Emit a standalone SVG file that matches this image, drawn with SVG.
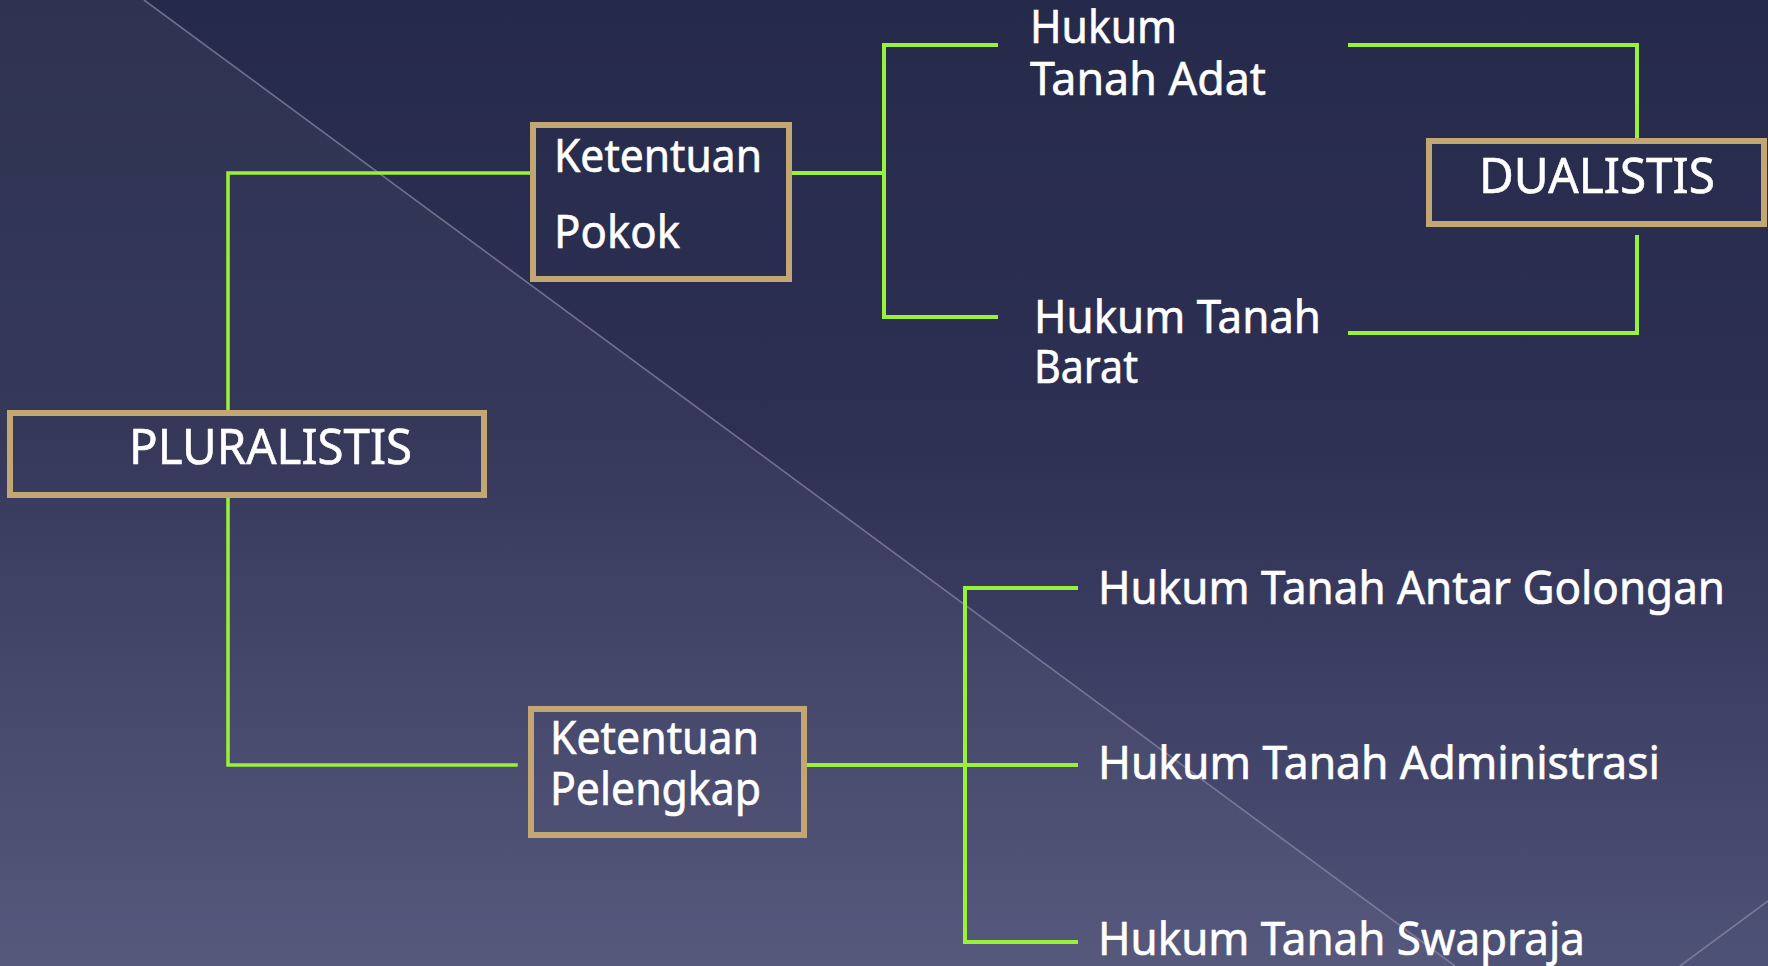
<svg xmlns="http://www.w3.org/2000/svg" width="1768" height="966" viewBox="0 0 1768 966">
  <defs>
    <linearGradient id="bg" x1="0" y1="0" x2="0" y2="1">
      <stop offset="0" stop-color="#262a4a"/>
      <stop offset="0.45" stop-color="#2d3053"/>
      <stop offset="1" stop-color="#4f5277"/>
    </linearGradient>
    <style>
      .box { fill: none; stroke: #c2a673; stroke-width: 6; }
      .lbl { font-family: "Noto Sans", "Open Sans", "Liberation Sans", sans-serif; fill: #ffffff; stroke: #ffffff; stroke-width: 0.6; font-size: 45px; }
      .big { font-size: 50px; }
      .link { fill: none; stroke: #99f23a; stroke-width: 4; stroke-linecap: square; }
      .thin { stroke-width: 3.5; }
      .deco { stroke: #8a8ca6; stroke-width: 1.6; opacity: 0.7; fill: none; }
    </style>
  </defs>

  <!-- background -->
  <rect x="0" y="0" width="1768" height="966" fill="url(#bg)"/>
  <polygon points="0,0 144,0 1455,966 0,966" fill="#ffffff" opacity="0.045"/>
  <line class="deco" x1="144" y1="0" x2="1455" y2="966"/>
  <line class="deco" x1="1768" y1="901" x2="1680" y2="966"/>

  <!-- connectors -->
  <g id="connectors">
    <path class="link thin" d="M228,412 V173 H530"/>
    <path class="link" d="M792,173 H884"/>
    <path class="link" d="M996,45 H884 V317 H996"/>
    <path class="link" d="M1350,45 H1637 V138"/>
    <path class="link" d="M1637,237 V333 H1350"/>
    <path class="link thin" d="M228,497 V765 H516"/>
    <path class="link" d="M807,765 H1076"/>
    <path class="link" d="M1076,588 H965 V942 H1076"/>
  </g>

  <!-- nodes -->
  <g id="pluralistis">
    <rect class="box" x="10" y="413" width="474" height="82"/>
    <text class="lbl big" x="129" y="464" textLength="283" lengthAdjust="spacingAndGlyphs">PLURALISTIS</text>
  </g>

  <g id="ketentuan-pokok">
    <rect class="box" x="533" y="125" width="256" height="154"/>
    <text class="lbl" x="554" y="172" textLength="208" lengthAdjust="spacingAndGlyphs">Ketentuan</text>
    <text class="lbl" x="554" y="248" textLength="126" lengthAdjust="spacingAndGlyphs">Pokok</text>
  </g>

  <g id="ketentuan-pelengkap">
    <rect class="box" x="531" y="709" width="273" height="126"/>
    <text class="lbl" x="550" y="754" textLength="209" lengthAdjust="spacingAndGlyphs">Ketentuan</text>
    <text class="lbl" x="550" y="805" textLength="211" lengthAdjust="spacingAndGlyphs">Pelengkap</text>
  </g>

  <g id="dualistis">
    <rect class="box" x="1429" y="141" width="335" height="83"/>
    <text class="lbl big" x="1479" y="193" textLength="236" lengthAdjust="spacingAndGlyphs">DUALISTIS</text>
  </g>

  <g id="hukum-tanah-adat">
    <text class="lbl" x="1030" y="43" textLength="147" lengthAdjust="spacingAndGlyphs">Hukum</text>
    <text class="lbl" x="1030" y="95" textLength="236" lengthAdjust="spacingAndGlyphs">Tanah Adat</text>
  </g>

  <g id="hukum-tanah-barat">
    <text class="lbl" x="1034" y="333" textLength="287" lengthAdjust="spacingAndGlyphs">Hukum Tanah</text>
    <text class="lbl" x="1034" y="383" textLength="104" lengthAdjust="spacingAndGlyphs">Barat</text>
  </g>

  <g id="hukum-tanah-antar-golongan">
    <text class="lbl" x="1098" y="604" textLength="627" lengthAdjust="spacingAndGlyphs">Hukum Tanah Antar Golongan</text>
  </g>

  <g id="hukum-tanah-administrasi">
    <text class="lbl" x="1098" y="779" textLength="562" lengthAdjust="spacingAndGlyphs">Hukum Tanah Administrasi</text>
  </g>

  <g id="hukum-tanah-swapraja">
    <text class="lbl" x="1098" y="955" textLength="487" lengthAdjust="spacingAndGlyphs">Hukum Tanah Swapraja</text>
  </g>
</svg>
